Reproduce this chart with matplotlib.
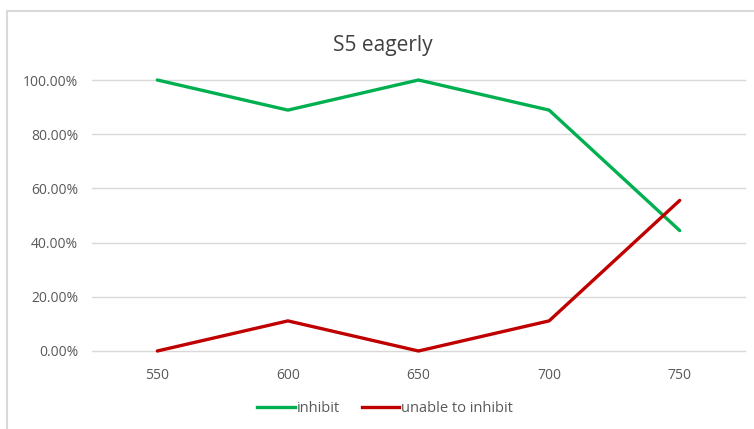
import matplotlib
matplotlib.use("Agg")
import matplotlib.pyplot as plt
from matplotlib.patches import Rectangle
from matplotlib.ticker import FuncFormatter
from matplotlib.lines import Line2D

categories = ["550", "600", "650", "700", "750"]
inhibit = [100.0, 88.89, 100.0, 88.89, 44.44]
unable_to_inhibit = [0.0, 11.11, 0.0, 11.11, 55.56]
y_ticks = [0, 20, 40, 60, 80, 100]

W, H = 754, 429
plt.rcParams["font.family"] = ["Open Sans", "DejaVu Sans"]
fig = plt.figure(figsize=(W / 100, H / 100), dpi=100)

# light chart frame running off the right and bottom edges
fig.patches.append(Rectangle((6.5 / W, -0.1), 1.2, (H - 10.5) / H + 0.1,
                             transform=fig.transFigure, fill=False,
                             edgecolor="#d9d9d9", linewidth=1.5))

left, right = 92 / W, 745 / W
top, bottom = 1 - 80 / H, 1 - 351 / H
ax = fig.add_axes([left, bottom, right - left, top - bottom])

x = list(range(len(categories)))
green = "#00b050"
red = "#c00000"
ax.plot(x, inhibit, color=green, linewidth=2.4, solid_capstyle="round",
        zorder=3, clip_on=False)
ax.plot(x, unable_to_inhibit, color=red, linewidth=2.4, solid_capstyle="round",
        zorder=3, clip_on=False)

ax.set_xlim(-0.5, len(categories) - 0.5)
ax.set_ylim(0, 100)
ax.set_xticks(x)
ax.set_xticklabels(categories)
ax.set_yticks(y_ticks)
ax.yaxis.set_major_formatter(FuncFormatter(lambda v, _: f"{v:.2f}%"))
ax.grid(axis="y", color="#d9d9d9", linewidth=1)
for gl in ax.get_ygridlines():
    gl.set_clip_on(False)
ax.set_axisbelow(True)
for s in ax.spines.values():
    s.set_visible(False)
ax.tick_params(length=0, labelsize=10, colors="#595959")
ax.tick_params(axis="x", pad=12)
ax.tick_params(axis="y", pad=10)

fig.text(0.5 + 6 / W, 1 - 45 / H, "S5 eagerly", ha="center", va="center",
         fontsize=15, color="#404040")

handles = [Line2D([], [], color=green, linewidth=2.4),
           Line2D([], [], color=red, linewidth=2.4)]
fig.legend(handles, ["inhibit", "unable to inhibit"], loc="center",
           bbox_to_anchor=(0.5 + 8 / W, 1 - 409 / H), ncol=2, frameon=False,
           fontsize=10.5, labelcolor="#595959", handlelength=2.6,
           handletextpad=0.1, columnspacing=1.5)

fig.savefig("out.png", dpi=100, facecolor="white")
